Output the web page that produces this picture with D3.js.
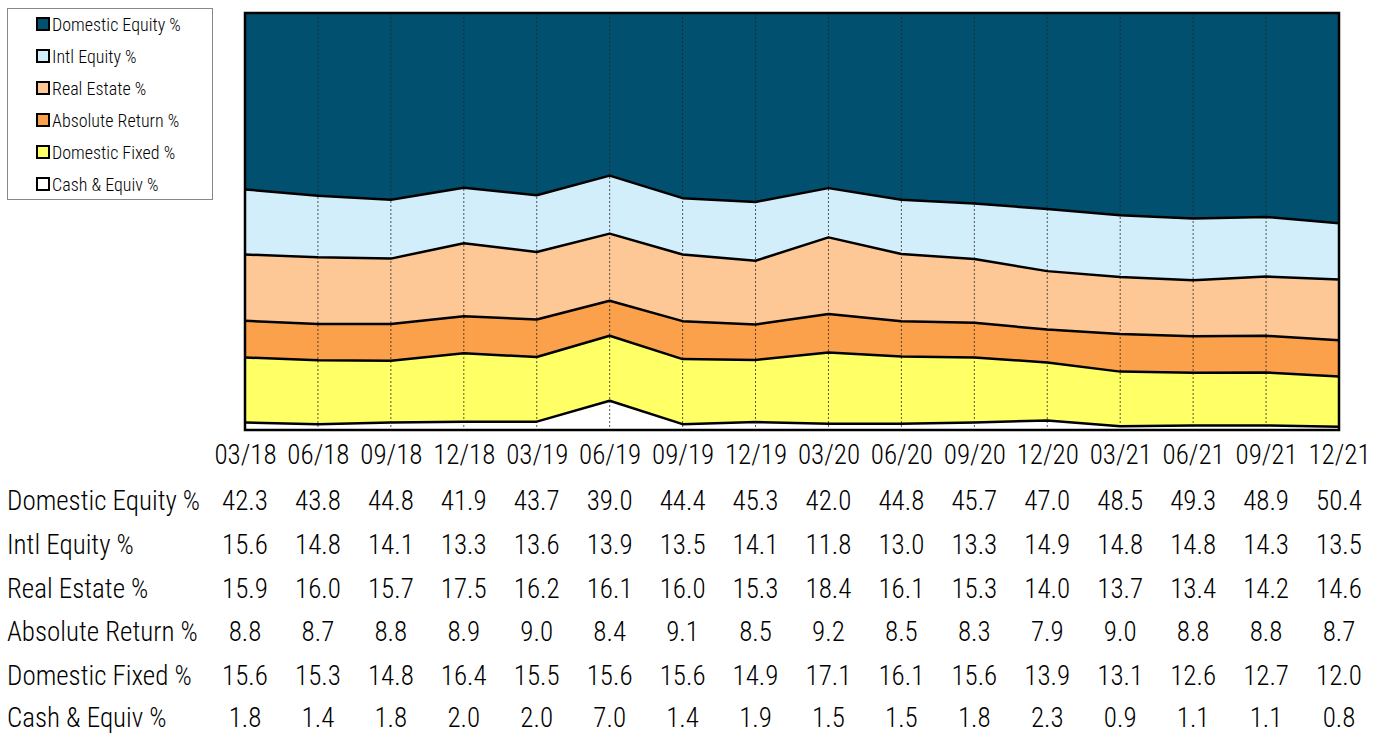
<!DOCTYPE html>
<html>
<head>
<meta charset="utf-8">
<script src="https://cdn.jsdelivr.net/npm/d3@7"></script>
<style>
  html, body { margin: 0; padding: 0; background: #fff; }
  svg { display: block; }
  text { font-family: 'Roboto Condensed', 'Liberation Sans Narrow', sans-serif; font-weight: 300; fill: #000; }
</style>
</head>
<body>
<svg id="chart" width="1382" height="734"></svg>
<script>
// Quarter-end labels
const periods = ["03/18","06/18","09/18","12/18","03/19","06/19","09/19","12/19",
                 "03/20","06/20","09/20","12/20","03/21","06/21","09/21","12/21"];

// Asset allocation by class (% of total)
const domesticEquity = [42.3,43.8,44.8,41.9,43.7,39.0,44.4,45.3,42.0,44.8,45.7,47.0,48.5,49.3,48.9,50.4];
const intlEquity     = [15.6,14.8,14.1,13.3,13.6,13.9,13.5,14.1,11.8,13.0,13.3,14.9,14.8,14.8,14.3,13.5];
const realEstate     = [15.9,16.0,15.7,17.5,16.2,16.1,16.0,15.3,18.4,16.1,15.3,14.0,13.7,13.4,14.2,14.6];
const absoluteReturn = [8.8,8.7,8.8,8.9,9.0,8.4,9.1,8.5,9.2,8.5,8.3,7.9,9.0,8.8,8.8,8.7];
const domesticFixed  = [15.6,15.3,14.8,16.4,15.5,15.6,15.6,14.9,17.1,16.1,15.6,13.9,13.1,12.6,12.7,12.0];
const cashEquiv      = [1.8,1.4,1.8,2.0,2.0,7.0,1.4,1.9,1.5,1.5,1.8,2.3,0.9,1.1,1.1,0.8];

// Series in legend/table order (top of stack first)
const seriesNames  = ["Domestic Equity %","Intl Equity %","Real Estate %","Absolute Return %","Domestic Fixed %","Cash & Equiv %"];
const seriesValues = [domesticEquity, intlEquity, realEstate, absoluteReturn, domesticFixed, cashEquiv];
const seriesColors = ["#02506F","#D2EEFA","#FDC895","#FBA14B","#FFFF66","#FFFFFF"];

const svg = d3.select("#chart");
const plot = { left: 245, right: 1339, top: 13, bottom: 430 };

const x = d3.scalePoint().domain(periods).range([plot.left, plot.right]);
const y = d3.scaleLinear().domain([0, 100]).range([plot.bottom, plot.top]);

// Rows for stacking
const rows = periods.map((p, i) => {
  const r = { period: p };
  seriesNames.forEach((n, k) => { r[n] = seriesValues[k][i]; });
  return r;
});
const stackKeys = seriesNames.slice().reverse(); // bottom: cash
const stacked = d3.stack().keys(stackKeys)(rows);

const area = d3.area()
  .x(d => x(d.data.period))
  .y0(d => y(d[0]))
  .y1(d => y(d[1]));
const topLine = d3.line()
  .x(d => x(d.data.period))
  .y(d => y(d[1]));

const colorOf = n => seriesColors[seriesNames.indexOf(n)];

svg.append("defs").append("clipPath").attr("id", "plotClip")
  .append("rect")
  .attr("x", plot.left).attr("y", plot.top)
  .attr("width", plot.right - plot.left).attr("height", plot.bottom - plot.top);

const g = svg.append("g").attr("clip-path", "url(#plotClip)");

// The top series fills to the frame
g.selectAll("path.area")
  .data(stacked)
  .join("path")
  .attr("class", "area")
  .attr("fill", s => colorOf(s.key))
  .attr("d", s => s.key === seriesNames[0]
      ? d3.area().x(d => x(d.data.period)).y0(d => y(d[0])).y1(y(100) - 20)(s)
      : area(s));

// Dashed vertical gridlines at each quarter
g.selectAll("line.grid")
  .data(periods)
  .join("line")
  .attr("class", "grid")
  .attr("x1", d => x(d)).attr("x2", d => x(d))
  .attr("y1", plot.top).attr("y2", plot.bottom)
  .attr("stroke", "#222")
  .attr("stroke-width", 1)
  .attr("stroke-dasharray", "2,2")
  .attr("opacity", 0.75);

// Boundary lines between series
g.selectAll("path.edge")
  .data(stacked.slice(0, stacked.length - 1))
  .join("path")
  .attr("class", "edge")
  .attr("fill", "none")
  .attr("stroke", "#000")
  .attr("stroke-width", 2.5)
  .attr("stroke-linejoin", "round")
  .attr("d", topLine);

// Plot frame
svg.append("rect")
  .attr("x", plot.left).attr("y", plot.top)
  .attr("width", plot.right - plot.left).attr("height", plot.bottom - plot.top)
  .attr("fill", "none").attr("stroke", "#000").attr("stroke-width", 2.5);

// Category axis labels
const xAxis = d3.axisBottom(x).tickSize(0).tickPadding(0);
const axisG = svg.append("g")
  .attr("transform", `translate(0,${plot.bottom})`)
  .call(xAxis);
axisG.select(".domain").remove();
axisG.selectAll("text")
  .attr("y", 34)
  .attr("dy", 0)
  .style("font-size", "27px")
  .style("font-weight", 300)
  .style("font-family", "'Roboto Condensed', 'Liberation Sans Narrow', sans-serif");

// Data table
const rowY = [510, 554, 598, 641, 685, 727];
const table = svg.append("g");
seriesNames.forEach((name, k) => {
  table.append("text")
    .attr("x", 7).attr("y", rowY[k])
    .style("font-size", "27px")
    .text(name);
  table.selectAll(null)
    .data(seriesValues[k])
    .join("text")
    .attr("x", (d, i) => x(periods[i]))
    .attr("y", rowY[k])
    .attr("text-anchor", "middle")
    .style("font-size", "27px")
    .text(d => d.toFixed(1));
});

// Legend
const legend = svg.append("g");
legend.append("rect")
  .attr("x", 7.5).attr("y", 8.5).attr("width", 205).attr("height", 191)
  .attr("fill", "#fff").attr("stroke", "#888").attr("stroke-width", 1);
seriesNames.forEach((name, k) => {
  const cy = 24 + k * 32;
  legend.append("rect")
    .attr("x", 37).attr("y", cy - 6).attr("width", 12).attr("height", 12)
    .attr("fill", seriesColors[k]).attr("stroke", "#000").attr("stroke-width", 2);
  legend.append("text")
    .attr("x", 52).attr("y", cy + 6.5)
    .style("font-size", "18px")
    .text(name);
});
</script>
</body>
</html>
